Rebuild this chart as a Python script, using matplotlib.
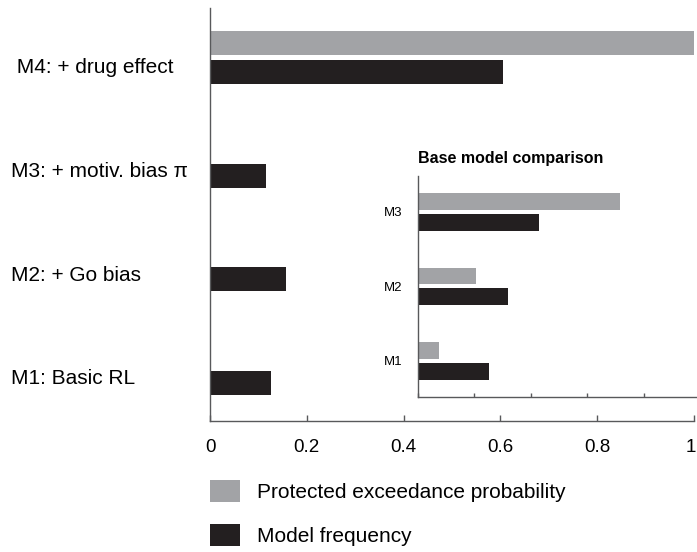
import numpy as np
import matplotlib as mpl
mpl.use("Agg")
import matplotlib.pyplot as plt

# Main panel: all four models
main_models = ["M1: Basic RL", "M2: + Go bias", "M3: + motiv. bias \u03c0", " M4: + drug effect"]
main_pxp = [0.0, 0.0, 0.0, 1.0]
main_freq = [0.125, 0.157, 0.116, 0.605]

# Inset: base model comparison (M1-M3)
base_models = ["M1", "M2", "M3"]
base_pxp = [0.073, 0.206, 0.718]
base_freq = [0.252, 0.318, 0.428]

legend_labels = ["Protected exceedance probability", "Model frequency"]
xticks = [0, 0.2, 0.4, 0.6, 0.8, 1]
xticklabels = ["0", "0.2", "0.4", "0.6", "0.8", "1"]

GREY = "#a2a3a6"
BLACK = "#231f20"
SPINE = "#58595b"

plt.rcParams["font.family"] = ["Liberation Sans", "DejaVu Sans"]

fig = plt.figure(figsize=(6.97, 5.52), dpi=100)

# main axes
ax = fig.add_axes([210 / 697, 1 - 421 / 552, 484 / 697, 413 / 552])
g = np.arange(len(main_models))
h_main = 0.232
b_grey = ax.barh(g + 0.28, main_pxp, height=h_main, color=GREY, label=legend_labels[0])
b_black = ax.barh(g, main_freq, height=h_main, color=BLACK, label=legend_labels[1])
ax.set_xlim(0, 1)
ax.set_ylim(-0.366, 3.616)
ax.set_xticks(xticks)
# last label ("1") is drawn separately, nudged so it stays inside the canvas
ax.set_xticklabels(xticklabels[:-1] + [""], fontsize=13.5)
ax.annotate(xticklabels[-1], xy=(xticks[-1], 0), xycoords=("data", "axes fraction"),
            xytext=(-2.5, -13), textcoords="offset points", ha="center", va="top",
            fontsize=13.5)
ax.set_yticks(g + 0.06)
ax.set_yticklabels(main_models, fontsize=15)
for lab in ax.get_yticklabels():
    lab.set_horizontalalignment("left")
ax.tick_params(axis="y", length=0, pad=143)
ax.tick_params(axis="x", direction="in", length=4.5, width=1, color=SPINE, pad=13)
for s in ["top", "right"]:
    ax.spines[s].set_visible(False)
for s in ["left", "bottom"]:
    ax.spines[s].set_color(SPINE)
    ax.spines[s].set_linewidth(1)

# inset axes
ax_in = fig.add_axes([418 / 697, 1 - 397 / 552, 282 / 697, 221 / 552])
gi = np.arange(len(base_models))
h_in = 0.224
ax_in.barh(gi + 0.14, base_pxp, height=h_in, color=GREY)
ax_in.barh(gi - 0.14, base_freq, height=h_in, color=BLACK)
ax_in.set_xlim(0, 1)
ax_in.set_ylim(-0.483, 2.48)
ax_in.set_xticks(xticks)
ax_in.set_xticklabels([])
ax_in.set_yticks(gi)
ax_in.set_yticklabels(base_models, fontsize=9.5)
ax_in.tick_params(axis="y", length=0, pad=11)
ax_in.tick_params(axis="x", direction="in", length=3, width=1, color=SPINE)
for s in ["top", "right"]:
    ax_in.spines[s].set_visible(False)
for s in ["left", "bottom"]:
    ax_in.spines[s].set_color(SPINE)
    ax_in.spines[s].set_linewidth(1)
ax_in.set_title("Base model comparison", loc="left", fontsize=11.5,
                fontweight="bold", pad=9)

# legend below the main axes
ax.legend(handles=[b_grey, b_black], labels=legend_labels, loc="upper left",
          bbox_to_anchor=(210 / 697, 1 - 480 / 552), bbox_transform=fig.transFigure,
          frameon=False, fontsize=15, handlelength=1.45, handleheight=1.25,
          handletextpad=0.8, labelspacing=1.05, borderaxespad=0, borderpad=0)

fig.savefig("out.png", dpi=100)
